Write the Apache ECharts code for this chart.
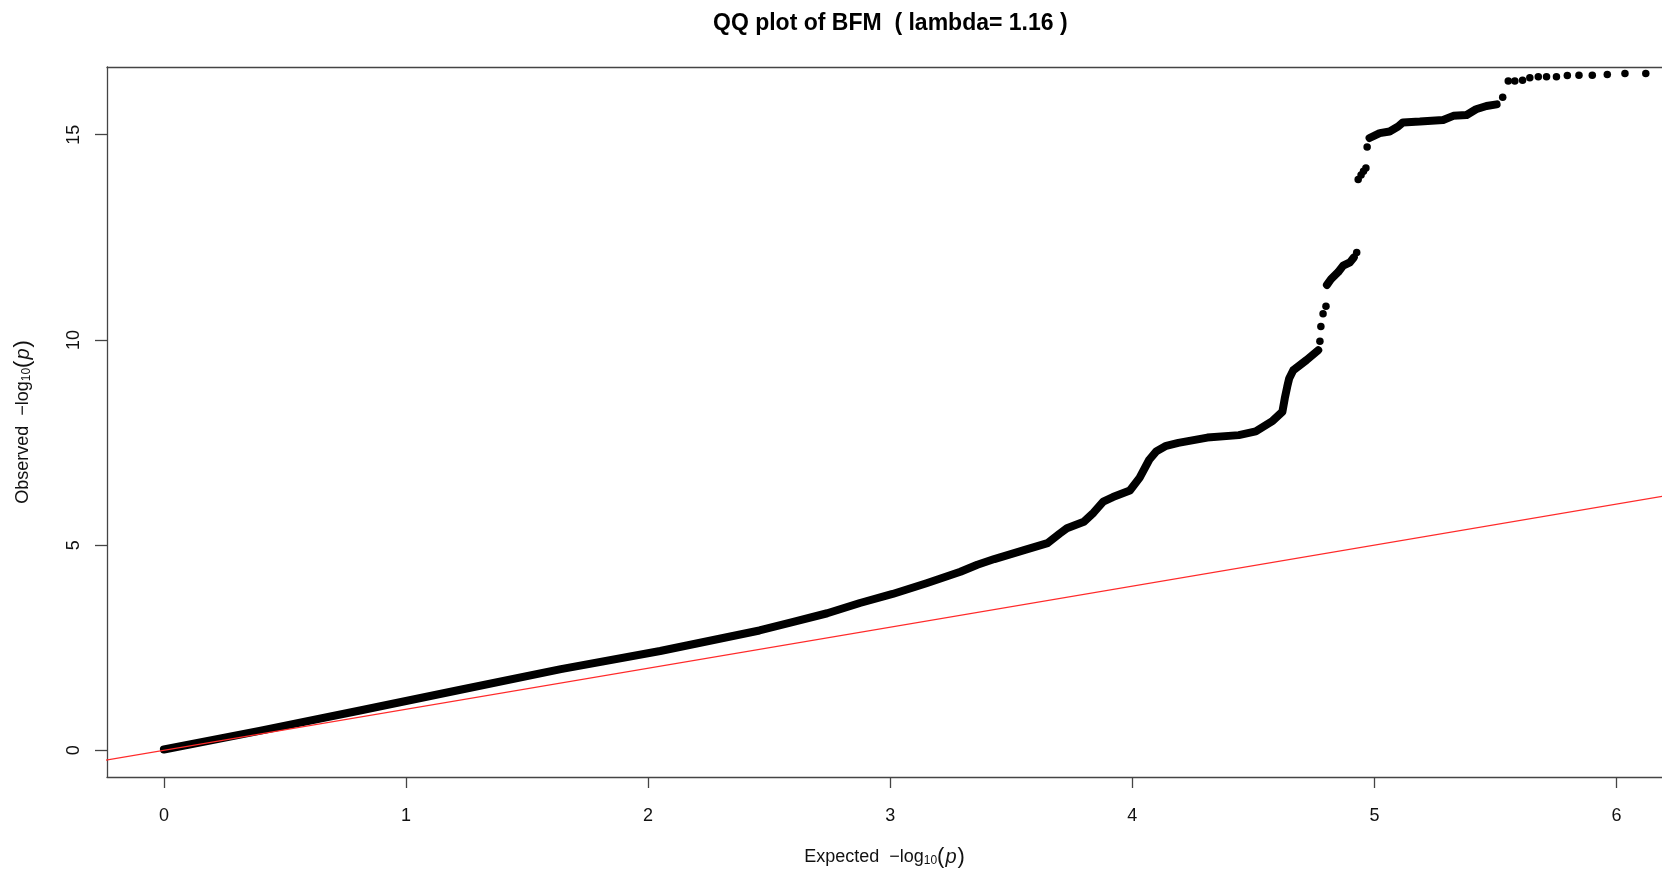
<!DOCTYPE html>
<html>
<head>
<meta charset="utf-8">
<script src="https://cdn.jsdelivr.net/npm/echarts@6/dist/echarts.min.js"></script>
<style>
html,body{margin:0;padding:0;background:#fff;}
#chart{width:1662px;height:873px;}
</style>
</head>
<body>
<div id="chart"></div>
<script>
// ---- data ----
const chartTitle = 'QQ plot of BFM  ( lambda= 1.16 )';
const xTicks = [0, 1, 2, 3, 4, 5, 6];
const yTicks = [0, 5, 10, 15];

// dense part of the QQ curve (points so close they form a band)
const denseMain = [
  [0.00, 0.02], [0.40, 0.48], [0.81, 0.97], [1.22, 1.47], [1.64, 1.98],
  [2.05, 2.42], [2.32, 2.75], [2.46, 2.92], [2.60, 3.13], [2.74, 3.34],
  [2.875, 3.59], [3.01, 3.81], [3.15, 4.07], [3.29, 4.35], [3.36, 4.52],
  [3.43, 4.66], [3.56, 4.89], [3.65, 5.05], [3.70, 5.28], [3.73, 5.41],
  [3.80, 5.57], [3.84, 5.79], [3.88, 6.06], [3.92, 6.17], [3.99, 6.33],
  [4.03, 6.64], [4.07, 7.08], [4.10, 7.29], [4.14, 7.42], [4.19, 7.49],
  [4.31, 7.62], [4.44, 7.68], [4.51, 7.77], [4.58, 8.03], [4.62, 8.25],
  [4.63, 8.58], [4.64, 8.86], [4.648, 9.06], [4.665, 9.26], [4.72, 9.51],
  [4.768, 9.75]
];
const denseBand2 = [
  [4.804, 11.34], [4.822, 11.49], [4.85, 11.65], [4.871, 11.81],
  [4.899, 11.89], [4.915, 12.01]
];
const denseBand3 = [
  [4.98, 14.92], [5.022, 15.04], [5.063, 15.08], [5.098, 15.20],
  [5.118, 15.30], [5.188, 15.32], [5.284, 15.36], [5.326, 15.46],
  [5.381, 15.48], [5.42, 15.62], [5.463, 15.70], [5.505, 15.74]
];
// isolated points
const sparsePoints = [
  [4.775, 9.97], [4.779, 10.33], [4.788, 10.64], [4.800, 10.82],
  [4.927, 12.13], [4.933, 13.91], [4.945, 14.02], [4.955, 14.11],
  [4.965, 14.19], [4.970, 14.70], [5.530, 15.91], [5.553, 16.31],
  [5.580, 16.31], [5.612, 16.33], [5.642, 16.39], [5.677, 16.41],
  [5.711, 16.41], [5.752, 16.41], [5.797, 16.44], [5.845, 16.45],
  [5.900, 16.45], [5.962, 16.47], [6.035, 16.49], [6.121, 16.49]
];
// y = x reference line
const refLine = [[-0.5, -0.5], [6.5, 6.5]];

// ---- chart ----
const FONT = '"Liberation Sans", Arial, Helvetica, sans-serif';
const FRAME = {color: '#444', width: 1.3};
const X_MIN = -0.235, X_MAX = 6.188, Y_MIN = -0.65, Y_MAX = 16.65;
const chart = echarts.init(document.getElementById('chart'), null, {renderer: 'canvas'});

const lineBand = (data) => ({
  type: 'line', data: data, symbol: 'none', silent: true,
  xAxisIndex: 0, yAxisIndex: 0,
  lineStyle: {color: '#000', width: 8, cap: 'round', join: 'round'},
  z: 2, animation: false
});

const axisNameRich = {
  base: {fontFamily: FONT, fontSize: 18, color: '#111'},
  sub: {fontFamily: FONT, fontSize: 12, color: '#111', padding: [8, 0, 0, 0]},
  par: {fontFamily: FONT, fontSize: 22, color: '#111'},
  it: {fontFamily: FONT, fontSize: 20, fontStyle: 'italic', color: '#111', padding: [0, 1, 0, 1]}
};
const nameText = (w) => '{base|' + w + '  \u2212log}{sub|10}{par|(}{it|p}{par|)}';

chart.setOption({
  animation: false,
  backgroundColor: '#fff',
  title: {
    text: chartTitle, left: 708, top: 7,
    textStyle: {fontFamily: FONT, fontSize: 23, fontWeight: 'bold', color: '#000'}
  },
  grid: {left: 107, top: 67, bottom: 92, right: 0, show: false},
  xAxis: [{
    type: 'value', min: X_MIN, max: X_MAX, position: 'bottom',
    splitLine: {show: false},
    axisLine: {show: true, onZero: false, lineStyle: FRAME},
    axisTick: {show: true, inside: false, length: 11, customValues: xTicks, lineStyle: FRAME},
    axisLabel: {customValues: xTicks, margin: 30, fontFamily: FONT, fontSize: 18, color: '#111',
      formatter: (v) => String(Math.round(v))},
    name: nameText('Expected'),
    nameLocation: 'middle', nameGap: 69,
    nameTextStyle: {rich: axisNameRich}
  }, {
    type: 'value', min: X_MIN, max: X_MAX, position: 'top',
    splitLine: {show: false},
    axisLine: {show: true, onZero: false, lineStyle: FRAME},
    axisTick: {show: false}, axisLabel: {show: false}
  }],
  yAxis: {
    type: 'value', min: Y_MIN, max: Y_MAX,
    splitLine: {show: false},
    axisLine: {show: true, onZero: false, lineStyle: FRAME},
    axisTick: {show: true, inside: false, length: 12, customValues: yTicks, lineStyle: FRAME},
    axisLabel: {customValues: yTicks, margin: 24, rotate: 90, fontFamily: FONT, fontSize: 18, color: '#111',
      formatter: (v) => String(Math.round(v))},
    name: nameText('Observed'),
    nameLocation: 'middle', nameGap: 73, nameRotate: 90,
    nameTextStyle: {rich: axisNameRich}
  },
  series: [
    lineBand(denseMain),
    lineBand(denseBand2),
    lineBand(denseBand3),
    {
      type: 'scatter', data: sparsePoints, symbol: 'circle', symbolSize: 7.5,
      xAxisIndex: 0, yAxisIndex: 0,
      itemStyle: {color: '#000', opacity: 1}, silent: true, z: 2
    },
    {
      type: 'line', data: refLine, symbol: 'none', silent: true,
      xAxisIndex: 0, yAxisIndex: 0,
      lineStyle: {color: '#ff2a2a', width: 1.2}, z: 3
    }
  ]
});
</script>
</body>
</html>
